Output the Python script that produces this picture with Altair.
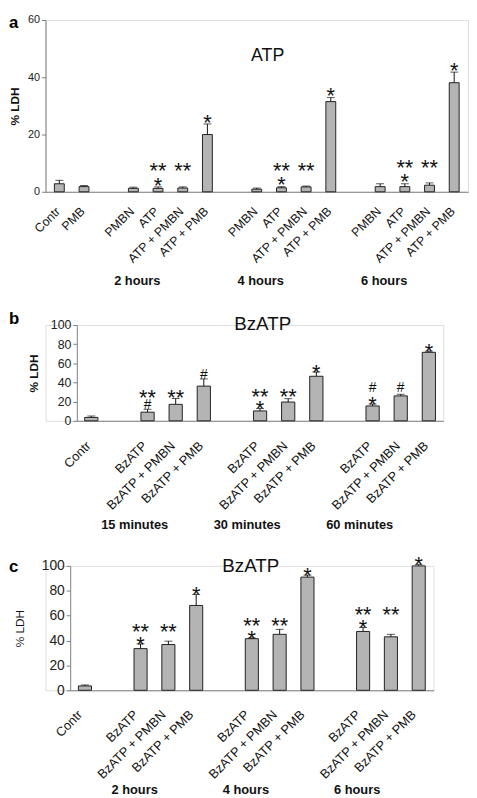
import altair as alt
import pandas as pd

FONT = "Liberation Sans"

# ---------------- Panel a : ATP ----------------
a_ctrl = ["Contr", "PMB"]
a_ctrl_val = [2.8, 1.8]
a_ctrl_err = [1.2, 0.4]
a_times = ["2 hours", "4 hours", "6 hours"]
a_treat = ["PMBN", "ATP", "ATP + PMBN", "ATP + PMB"]
a_val = [[1.2, 1.2, 1.3, 20.0], [0.9, 1.4, 1.7, 31.5], [1.8, 1.8, 2.3, 38.1]]
a_err = [[0.4, 0.5, 0.4, 3.7], [0.4, 0.4, 0.3, 1.4], [1.0, 1.0, 0.8, 3.7]]
# "a/b" = lower/upper marks; "^x" = mark on the same row as the previous bar's upper mark
a_sig = [["", "*/**", "^**", "*"], ["", "*/**", "^**", "*"], ["", "*/**", "^**", "*"]]

# ---------------- Panel b : BzATP (minutes) ----------------
b_ctrl = ["Contr"]
b_ctrl_val = [3.5]
b_ctrl_err = [1.5]
b_times = ["15 minutes", "30 minutes", "60 minutes"]
b_treat = ["BzATP", "BzATP + PMBN", "BzATP + PMB"]
b_val = [[9.0, 17.2, 36.2], [10.3, 19.6, 46.5], [15.5, 26.0, 71.5]]
b_err = [[3.0, 6.0, 7.5], [2.5, 3.5, 4.5], [2.0, 1.7, 1.2]]
b_sig = [["#/**", "^**", "#"], ["*/**", "^**", "*"], ["*/#", "^#", "*"]]

# ---------------- Panel c : BzATP (hours) ----------------
c_ctrl = ["Contr"]
c_ctrl_val = [3.5]
c_ctrl_err = [0.8]
c_times = ["2 hours", "4 hours", "6 hours"]
c_treat = ["BzATP", "BzATP + PMBN", "BzATP + PMB"]
c_val = [[33.5, 36.8, 68.2], [41.5, 45.0, 91.0], [47.3, 43.0, 100.0]]
c_err = [[3.8, 2.7, 8.8], [0.6, 4.0, 1.6], [3.2, 2.0, 1.0]]
c_sig = [["*/**", "^**", "*"], ["*/**", "^**", "*"], ["*/**", "^**", "*"]]


def build(ctrl, cval, cerr, times, treat, vals, errs, sigs):
    domain, bars, ann, grp = [], [], [], []
    for c, v, e in zip(ctrl, cval, cerr):
        k = f"ctrl|{c}"
        domain.append(k)
        bars.append(dict(key=k, lab=c, value=v, top=v + e))
    for gi, t in enumerate(times):
        domain.append(f"gap{gi}|")
        prev_top = None
        for ti, (tr, v, e, s) in enumerate(zip(treat, vals[gi], errs[gi], sigs[gi])):
            k = f"{t}|{tr}"
            domain.append(k)
            bars.append(dict(key=k, lab=tr, value=v, top=v + e))
            if ti == 0:
                grp.append(dict(key=k, label=t))
            if s.startswith("^"):
                sym = s[1:]
                kind = "hash" if "#" in sym else "star"
                ann.append(dict(key=k, top=prev_top, sym=sym, kind=kind, level=1))
            elif s:
                for lvl, sym in enumerate(s.split("/")):
                    kind = "hash" if "#" in sym else "star"
                    ann.append(dict(key=k, top=v + e, sym=sym, kind=kind, level=lvl))
            prev_top = v + e
    return domain, pd.DataFrame(bars), pd.DataFrame(ann), pd.DataFrame(grp)


GRAY = "#7f7f7f"


def panel(letter, title, data, width, height, xrange, pi, po, ymax, ystep,
          yfs, xfs, tfs, title_xy, grp_y, grp_dx, off, title_pad, ytitle_bold,
          lab_dxdy, ann_off, letter_y):
    domain, bars, ann, grp = data
    xs = alt.Scale(domain=domain, range=xrange, paddingInner=pi, paddingOuter=po)
    ys = alt.Scale(domain=[0, ymax], nice=False)
    xaxis = alt.Axis(labels=False, ticks=False, domainColor=GRAY)
    yaxis = alt.Axis(values=list(range(0, ymax + 1, ystep)), grid=False,
                     domainColor=GRAY, tickColor=GRAY, tickSize=4,
                     labelFont=FONT, labelFontSize=yfs, labelColor="#222",
                     labelOverlap=False,
                     titleFont=FONT, titleFontSize=12,
                     titleFontWeight="bold" if ytitle_bold else "normal",
                     titleColor="#111", titlePadding=title_pad, offset=off)
    X = alt.X("key:N", scale=xs, title=None, axis=xaxis)

    def Y(field):
        return alt.Y(field, scale=ys, title="% LDH", axis=yaxis)

    base = alt.Chart(bars)
    b = base.mark_bar(color="#b4b4b4", stroke="#222", strokeWidth=1).encode(x=X, y=Y("value:Q"))
    r = base.mark_rule(color="#111", strokeWidth=1).encode(x=X, y=Y("value:Q"), y2="top:Q")
    cap = base.mark_tick(color="#111", thickness=1, size=8).encode(x=X, y=Y("top:Q"))
    xlab = base.mark_text(font=FONT, fontSize=xfs, angle=315, align="right",
                          baseline="middle", dx=lab_dxdy[0], dy=lab_dxdy[1], color="#111"
                          ).encode(x=X, y=alt.value(height), text="lab:N")
    layers = [b, r, cap, xlab]
    l0, l1 = ann_off
    for kind, fs, cen in (("star", 22, 12.8), ("hash", 14, 4.9)):
        for lvl, o in ((0, l0), (1, l1)):
            sub = ann[(ann.kind == kind) & (ann.level == lvl)]
            if len(sub) == 0:
                continue
            layers.append(alt.Chart(sub).mark_text(
                font=FONT, fontSize=fs, baseline="alphabetic", dy=o + cen, color="#111"
            ).encode(x=X, y=Y("top:Q"), text="sym:N"))
    layers.append(alt.Chart(grp).mark_text(
        font=FONT, fontSize=13, fontWeight="bold", baseline="middle", dx=grp_dx, color="#111"
    ).encode(x=X, y=alt.value(grp_y), text="label:N"))
    layers.append(alt.Chart(pd.DataFrame({"t": [title]})).mark_text(
        font=FONT, fontSize=tfs, baseline="middle", color="#111"
    ).encode(x=alt.value(title_xy[0]), y=alt.value(title_xy[1]), text="t:N"))
    layers.append(alt.Chart(pd.DataFrame({"t": [letter]})).mark_text(
        font=FONT, fontSize=17, fontWeight="bold", baseline="top", align="left", color="#000"
    ).encode(x=alt.value(-37), y=alt.value(letter_y), text="t:N"))
    return alt.layer(*layers).properties(width=width, height=height)


pa = panel("a", "ATP", build(a_ctrl, a_ctrl_val, a_ctrl_err, a_times, a_treat, a_val, a_err, a_sig),
           width=428, height=174, xrange=[0, 428], pi=0.6, po=0.36, ymax=60, ystep=20,
           yfs=11, xfs=12.5, tfs=18, title_xy=(225, 36.5), grp_y=264.5, grp_dx=4,
           off=0, title_pad=6, ytitle_bold=True, lab_dxdy=(-13.5, 11.8),
           ann_off=(-7, -22), letter_y=-5)
pb = panel("b", "BzATP", build(b_ctrl, b_ctrl_val, b_ctrl_err, b_times, b_treat, b_val, b_err, b_sig),
           width=403, height=97, xrange=[31.7, 403], pi=0.53, po=0.28, ymax=100, ystep=20,
           yfs=12.5, xfs=13, tfs=19, title_xy=(220, -1), grp_y=203, grp_dx=-13,
           off=-31.7, title_pad=10, ytitle_bold=True, lab_dxdy=(-18.4, 14.6),
           ann_off=(-5, -17), letter_y=-14)
pc = panel("c", "BzATP", build(c_ctrl, c_ctrl_val, c_ctrl_err, c_times, c_treat, c_val, c_err, c_sig),
           width=393, height=126, xrange=[25, 393], pi=0.53, po=0.295, ymax=100, ystep=20,
           yfs=14, xfs=13, tfs=19, title_xy=(208, 0), grp_y=227, grp_dx=-6,
           off=-25, title_pad=15, ytitle_bold=False, lab_dxdy=(-19.4, 12.8),
           ann_off=(-5, -18), letter_y=-7)

chart = alt.vconcat(pa, pb, pc, spacing=21).properties(
    padding={"left": 0, "top": 0, "right": 0, "bottom": 0}
).configure_view(stroke=None, strokeWidth=0).configure_axisY(labelOverlap=False).configure(font=FONT)

chart.save("out.html", embed_options={"renderer": "svg", "actions": False})
